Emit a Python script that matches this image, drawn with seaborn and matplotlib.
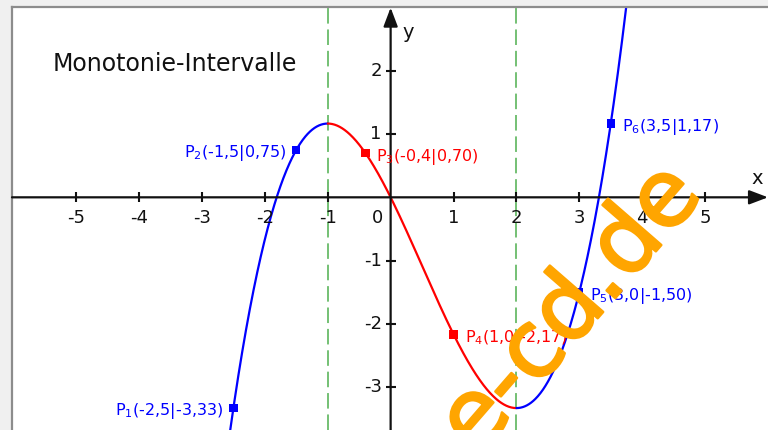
import numpy as np
import pandas as pd
import matplotlib
matplotlib.use("Agg")
import matplotlib.pyplot as plt
import matplotlib.patheffects as pe
import seaborn as sns

# ---- data -----------------------------------------------------------------
# f(x) = 1/3 x^3 - 1/2 x^2 - 2x  (coefficients, highest power first)
coeffs = [1 / 3, -1 / 2, -2.0, 0.0]
# x-values of the extrema that split the monotonic intervals
extrema_x = [-1.0, 2.0]
# plotted range of the curve and the colour of each monotonic piece
curve_start, curve_end = -2.8, 4.0
piece_colors = ["#0000ff", "#ff0000", "#0000ff"]

point_names = ["1", "2", "3", "4", "5", "6"]
point_x = [-2.5, -1.5, -0.4, 1.0, 3.0, 3.5]
point_y = [-3.33, 0.75, 0.70, -2.17, -1.50, 1.17]
point_colors = ["#0000ff", "#0000ff", "#ff0000", "#ff0000", "#0000ff", "#0000ff"]
point_side = ["left", "left", "right", "right", "right", "right"]

x_ticks = [-5, -4, -3, -2, -1, 1, 2, 3, 4, 5]
y_ticks = [-3, -2, -1, 1, 2]

title = "Monotonie-Intervalle"
watermark = "mathe-cd.de"

# ---- figure ---------------------------------------------------------------
sns.set_style("white")
plt.rcParams["font.family"] = ["DejaVu Sans"]
plt.rcParams["mathtext.fontset"] = "dejavusans"

fig = plt.figure(figsize=(7.68, 4.30), dpi=100, facecolor="#f0f0f0")
ax = fig.add_axes([12 / 768, 0, 756 / 768, 423 / 430])
ax.set_facecolor("white")
ax.set_xlim(-6.02, 6.0)
ax.set_ylim(-3.68, 3.01)
ax.set_xticks([])
ax.set_yticks([])
for side in ("right", "bottom"):
    ax.spines[side].set_visible(False)
for side in ("left", "top"):
    ax.spines[side].set_color("#8c8c8c")
    ax.spines[side].set_linewidth(1.6)

# coordinate axes with arrow heads
xmin, xmax = ax.get_xlim()
ymin, ymax = ax.get_ylim()
arrow = dict(arrowstyle="-|>,head_length=0.95,head_width=0.36", color="#111111",
             lw=1.6, mutation_scale=12, shrinkA=0, shrinkB=0)
ax.annotate("", xy=(xmax, 0), xytext=(xmin, 0), arrowprops=arrow, zorder=3)
ax.annotate("", xy=(0, ymax - 0.01), xytext=(0, ymin), arrowprops=arrow, zorder=3)

# tick marks crossing the axes
ax.plot(x_ticks, np.zeros(len(x_ticks)), ls="none", marker="|", ms=7.5,
        mew=1.5, color="#111111", zorder=3)
ax.plot(np.zeros(len(y_ticks)), y_ticks, ls="none", marker="_", ms=7.5,
        mew=1.5, color="#111111", zorder=3)

tick_font = dict(fontsize=13, color="#111111")
for t in x_ticks:
    ax.annotate(f"{t}", (t, 0), xytext=(0, -12), textcoords="offset pixels",
                ha="center", va="top", **tick_font)
for t in y_ticks:
    ax.annotate(f"{t}", (0, t), xytext=(-9, 0), textcoords="offset pixels",
                ha="right", va="center", **tick_font)
ax.annotate("0", (0, 0), xytext=(-8, -12), textcoords="offset pixels",
            ha="right", va="top", **tick_font)
ax.text(5.83, 0.29, "x", fontsize=14, ha="center", va="center", color="#111111")
ax.text(0.28, 2.6, "y", fontsize=14, ha="center", va="center", color="#111111")

# vertical dashed lines through the extrema
for xe in extrema_x:
    ax.axvline(xe, color="#74c074", lw=1.4, ls=(0, (8, 3)), zorder=1)

# curve, split into its monotonic pieces
bounds = [curve_start] + extrema_x + [curve_end]
for (a, b), col in zip(zip(bounds[:-1], bounds[1:]), piece_colors):
    xs = np.linspace(a, b, 300)
    seg = pd.DataFrame({"x": xs, "y": np.polyval(coeffs, xs)})
    sns.lineplot(data=seg, x="x", y="y", color=col, lw=1.6, ax=ax,
                 sort=False, estimator=None, zorder=2)

# marked points with their coordinates
def fmt(v, nd):
    return f"{v:.{nd}f}".replace(".", ",")

pts = pd.DataFrame({"x": point_x, "y": point_y, "c": point_colors})
sns.scatterplot(data=pts, x="x", y="y", hue="c", palette={c: c for c in set(point_colors)},
                marker="s", s=36, linewidth=0, legend=False, ax=ax, zorder=4)
for name, px, py, col, side in zip(point_names, point_x, point_y, point_colors, point_side):
    label = rf"P$_{{{name}}}$({fmt(px, 1)}|{fmt(py, 2)})"
    dx = -10 if side == "left" else 11
    ax.annotate(label, (px, py), xytext=(dx, -7.5), textcoords="offset pixels",
                ha="right" if side == "left" else "left", va="baseline",
                fontsize=11.5, color=col, zorder=5)

ax.text(0.2156, 0.865, title, transform=ax.transAxes, fontsize=17,
        ha="center", va="center", color="#111111")

# site mark across the lower right
ax.text(4.99, 0.03, watermark, fontsize=67, color="#ffa500", rotation=49,
        rotation_mode="anchor", ha="right", va="baseline", zorder=10, clip_on=True,
        path_effects=[pe.withStroke(linewidth=1.8, foreground="#ffa500")])

ax.set_xlabel("")
ax.set_ylabel("")
fig.savefig("out.png", dpi=100, facecolor=fig.get_facecolor())
